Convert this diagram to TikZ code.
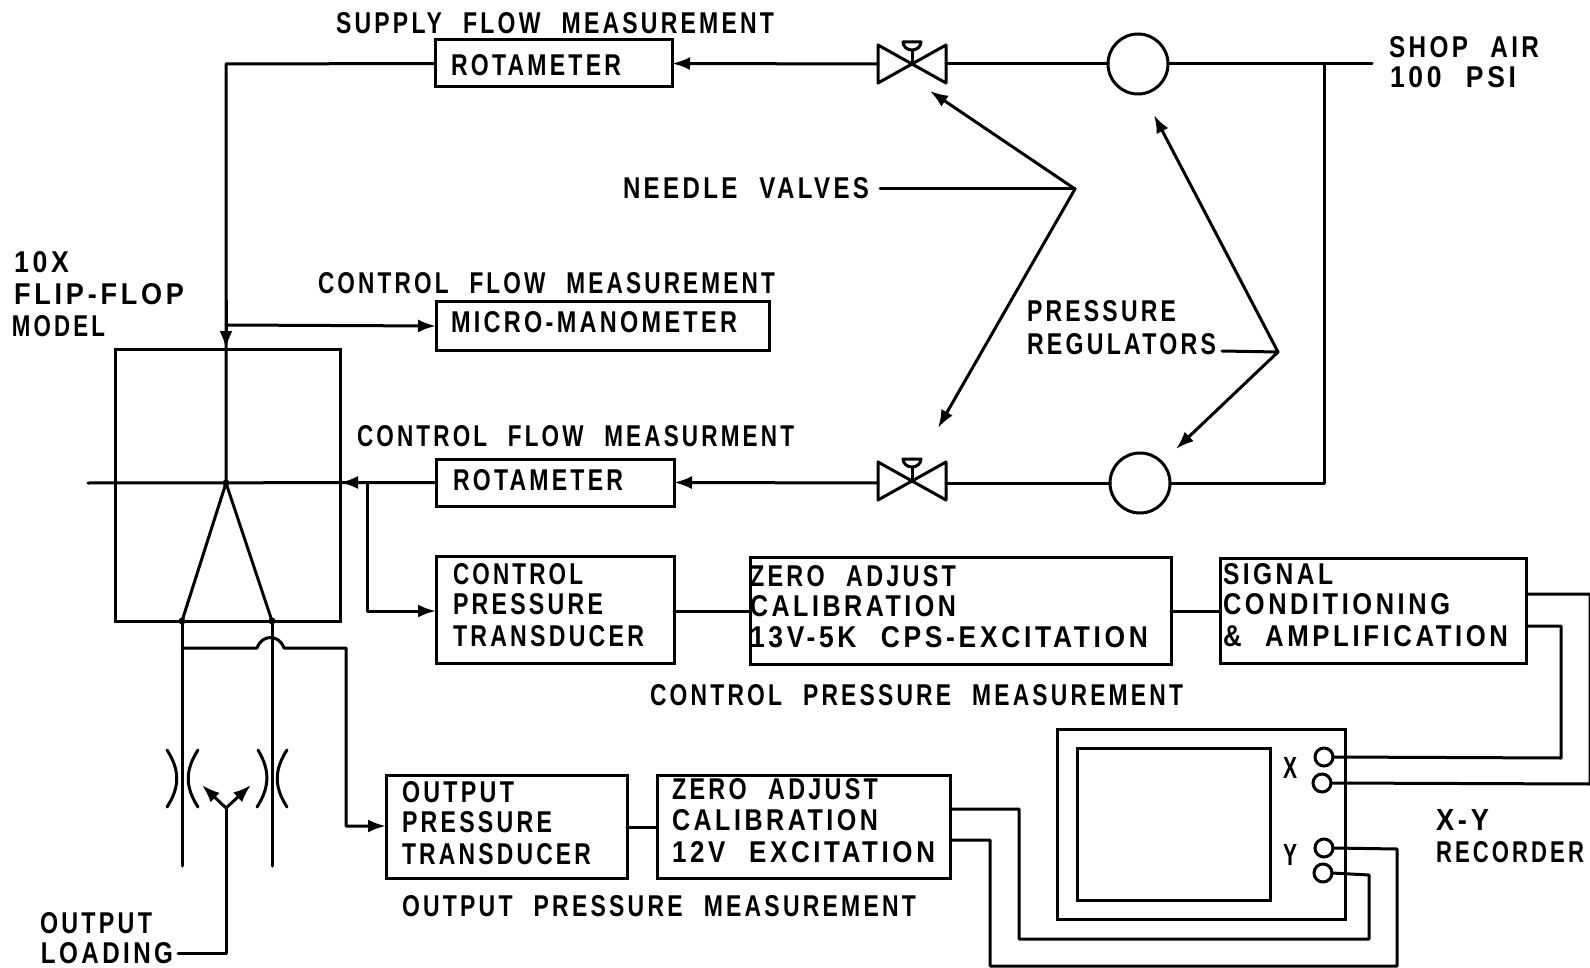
\documentclass[tikz,border=0pt]{standalone}
\usepackage{fontspec}
\usepackage{graphicx}
\usetikzlibrary{arrows.meta,calc}
\setmainfont[LetterSpace=14,WordSpace=2.2,BoldFont={Liberation Sans Bold}]{Liberation Sans}
\tikzset{
  line/.style={line width=3pt,line join=round,line cap=round},
  blk/.style={draw,line width=3pt,inner sep=0pt,outer sep=0pt,rectangle},
  reg/.style={draw,line width=3pt,circle,inner sep=0pt,outer sep=0pt,minimum size=60pt},
  port/.style={draw,line width=3pt,circle,inner sep=0pt,outer sep=0pt,minimum size=18pt},
  valvebox/.style={inner sep=0pt,outer sep=0pt,minimum width=68pt,minimum height=38pt},
  txt/.style={anchor=west,inner sep=0pt,outer sep=0pt,font=\fontsize{29}{30}\selectfont\bfseries},
  tip/.style={-{Latex[length=18pt,width=13pt]}},
  joint/.style={fill,circle,inner sep=0pt,minimum size=7pt},
}
\newcommand\boxn[5]{%
  \pgfmathsetlengthmacro\bw{#4-#2}\pgfmathsetlengthmacro\bh{#5-#3}%
  \node[blk,minimum width=\bw,minimum height=\bh] (#1) at ({(#2+#4)/2},{(#3+#5)/2}) {};}
\newcommand\lbl[5]{%
  \pgfmathsetlengthmacro\tw{#3-#2}%
  \node[txt] (#1) at (#2,#4) {\resizebox{\tw}{21pt}{#5}};}
\newcommand\valve[3]{%
  \node[valvebox] (#1) at (#2,#3) {};
  \draw[line] (#1.north west) -- (#1.south east) -- (#1.north east) -- (#1.south west) -- cycle;
  \draw[line] (#1.center) -- ++(0,-22);
  \draw[line,fill=white] ($(#1.center)+(-9,-22)$) arc[start angle=180,end angle=0,x radius=9,y radius=8] -- cycle;}
\begin{document}
\begin{tikzpicture}[x=1pt,y=-1pt]
\useasboundingbox (0,0) rectangle (1590,968);
% boxes
\boxn{rotA}{435}{40}{672}{87}
\boxn{micro}{436}{302}{769}{350}
\boxn{model}{115}{349}{340}{621}
\boxn{rotB}{436}{459}{674}{506}
\boxn{cpt}{436}{556}{674}{663}
\boxn{zeroA}{750}{557}{1171}{664}
\boxn{sig}{1220}{558}{1526}{663}
\boxn{opt}{386}{775}{627}{878}
\boxn{zeroB}{657}{775}{950}{878}
\boxn{rec}{1057}{729}{1345}{919}
\boxn{screen}{1077}{748}{1270}{900}
% regulators and valves
\node[reg] (regA) at (1138,64) {};
\node[reg] (regB) at (1140,483) {};
\valve{valA}{912}{64}
\valve{valB}{912}{481}
% recorder ports
\node[port] (px1) at (1324,757) {};
\node[port] (px2) at (1322,783) {};
\node[port] (py1) at (1324,848) {};
\node[port] (py2) at (1323,873) {};
% free ends
\coordinate (air) at (1372,64);
\coordinate (tee) at (1324,64);
\coordinate (cl) at (88,483);
\coordinate (apex) at (226,483);
\coordinate (tl) at (182,621);
\coordinate (tr) at (272,621);
\coordinate (needle) at (1075,189);
\coordinate (press) at (1278,352);
\coordinate (ya) at (202,785);
\coordinate (yb) at (251,785);
\coordinate (yj) at (226,808);
% air lines
\draw[line] (air) -- (regA.east);
\draw[line] (regA.west) -- (valA.east);
\draw[line,tip] (valA.west) -- (rotA.east);
\draw[line] (tee) -- (tee |- regB.east) -- (regB.east);
\draw[line] (regB.west) -- (valB.east |- regB.west);
\draw[line,tip] (valB.west |- regB.west) -- (rotB.east);
% model feed
\draw[line] (rotA.west) -- (226,64) -- (apex);
\draw[line,tip] (226,300) -- (226,349);
\draw[line,tip] (226,325) -- (micro.west);
\draw[line] (cl) -- (rotB.west);
\draw[line,tip] (rotB.west) -- (rotB.west -| model.east);
\draw[line,tip] (367,483) -- (367,611) -- (436,611);
\draw[line] (tl) -- (apex) -- (tr);
\node[joint] (jA) at (tl) {};
\node[joint] (jB) at (tr) {};
\node[joint] (jC) at (apex) {};
% output legs
\draw[line] (tl) -- (182,866);
\draw[line] (tr) -- (272,866);
\draw[line,tip] (182,648) -- (257,648) .. controls (262,634) and (279,634) .. (284,648) -- (346,648) -- (346,826) -- (386,826);
% nozzles
\draw[line] (167,750) .. controls (180,770) and (180,787) .. (167,807);
\draw[line] (198,750) .. controls (185,770) and (185,787) .. (198,807);
\draw[line] (258,750) .. controls (270,770) and (270,787) .. (257,807);
\draw[line] (287,750) .. controls (274,770) and (274,787) .. (287,807);
% output loading
\lbl{olA}{40}{152}{923}{OUTPUT}
\lbl{olB}{41}{173}{953}{LOADING}
\draw[line] (178,953) -- (226,953) -- (yj);
\draw[line,tip] (yj) -- (ya);
\draw[line,tip] (yj) -- (yb);
% block links
\draw[line] (674,611) -- (750,611);
\draw[line] (1171,611) -- (1220,611);
\draw[line] (627,827) -- (657,827);
% recorder links
\draw[line] (1526,594) -- (1590,594) -- (1590,784) -- (px2.east);
\draw[line] (1526,626) -- (1561,626) -- (1561,758) -- (px1.east);
\draw[line] (950,809) -- (1019,809) -- (1019,939) -- (1369,939) -- (1369,875) -- (py2.east);
\draw[line] (950,840) -- (990,840) -- (990,966) -- (1397,966) -- (1397,849) -- (py1.east);
% leaders
\draw[line] (880,189) -- (needle);
\draw[line,tip] (needle) -- (930,91);
\draw[line,tip] (needle) -- (938,428);
\draw[line] (1222,351) -- (press);
\draw[line,tip] (press) -- (1154,115);
\draw[line,tip] (press) -- (1176,449);
% texts
\lbl{t1}{336}{774}{23}{SUPPLY FLOW MEASUREMENT}
\lbl{t2}{451}{621}{65}{ROTAMETER}
\lbl{t3}{1389}{1539}{47}{SHOP AIR}
\lbl{t4}{1390}{1516}{77}{100 PSI}
\lbl{t5}{623}{869}{188}{NEEDLE VALVES}
\lbl{t6}{14}{69}{262}{10X}
\lbl{t7}{14}{184}{294}{FLIP-FLOP}
\lbl{t8}{12}{105}{326}{MODEL}
\lbl{t9}{318}{775}{283}{CONTROL FLOW MEASUREMENT}
\lbl{t10}{451}{737}{322}{MICRO-MANOMETER}
\lbl{t11}{1027}{1176}{311}{PRESSURE}
\lbl{t12}{1027}{1216}{344}{REGULATORS}
\lbl{t13}{357}{794}{436}{CONTROL FLOW MEASURMENT}
\lbl{t14}{453}{623}{480}{ROTAMETER}
\lbl{t15}{453}{583}{574}{CONTROL}
\lbl{t16}{453}{603}{604}{PRESSURE}
\lbl{t17}{453}{644}{636}{TRANSDUCER}
\lbl{t18}{750}{956}{576}{ZERO ADJUST}
\lbl{t19}{750}{956}{606}{CALIBRATION}
\lbl{t20}{750}{1148}{637}{13V-5K CPS-EXCITATION}
\lbl{t21}{1223}{1333}{574}{SIGNAL}
\lbl{t22}{1223}{1450}{604}{CONDITIONING}
\lbl{t23}{1223}{1508}{636}{\& AMPLIFICATION}
\lbl{t24}{650}{1183}{695}{CONTROL PRESSURE MEASUREMENT}
\lbl{t25}{402}{514}{792}{OUTPUT}
\lbl{t26}{402}{552}{822}{PRESSURE}
\lbl{t27}{402}{591}{854}{TRANSDUCER}
\lbl{t28}{672}{878}{789}{ZERO ADJUST}
\lbl{t29}{672}{878}{820}{CALIBRATION}
\lbl{t30}{672}{935}{852}{12V EXCITATION}
\lbl{t31}{402}{916}{906}{OUTPUT PRESSURE MEASUREMENT}
\lbl{t32}{1283}{1297}{768}{X}
\lbl{t33}{1283}{1297}{855}{Y}
\lbl{t34}{1436}{1489}{820}{X-Y}
\lbl{t35}{1436}{1584}{852}{RECORDER}
\end{tikzpicture}
\end{document}
